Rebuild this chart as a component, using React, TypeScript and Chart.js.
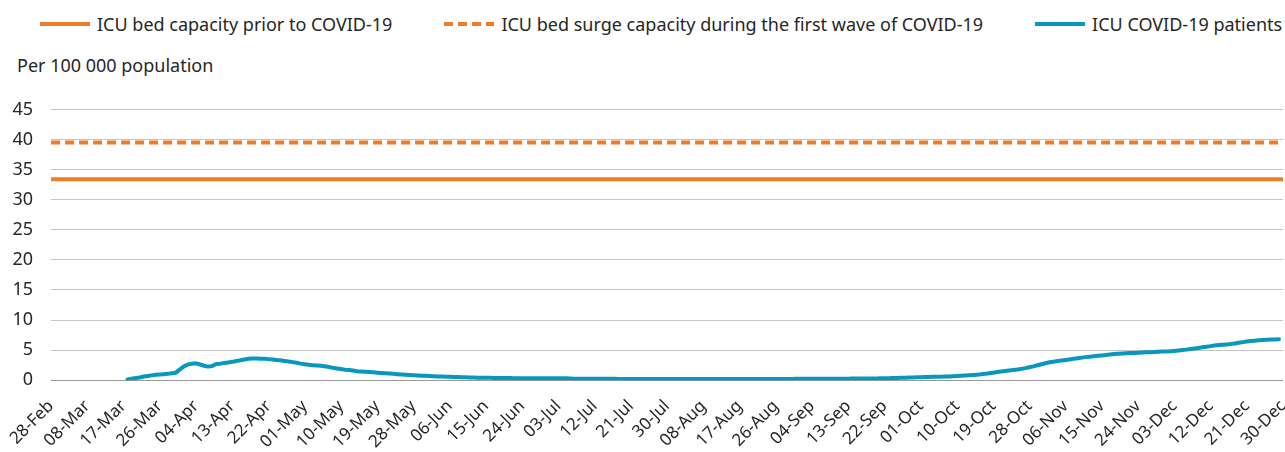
import React, { useEffect, useRef } from 'react';
import { Chart, registerables } from 'chart.js';

Chart.register(...registerables);

const FONT = '"Noto Sans", "Open Sans", sans-serif';
const FONT_SIZE = 18;
const X_FONT_SIZE = 17;
const ORANGE = '#F07B26';
const BLUE = '#0A97BE';
const TEXT = '#262626';

// Daily categories from 28-Feb-2020 to 30-Dec-2020
const MONTHS = ['Jan', 'Feb', 'Mar', 'Apr', 'May', 'Jun', 'Jul', 'Aug', 'Sep', 'Oct', 'Nov', 'Dec'];
const FIRST_DAY = new Date(2020, 1, 28);
const DAY_COUNT = 307;

const TICK_STEP = 9;
const TICK_LABELS = [
  '28-Feb', '08-Mar', '17-Mar', '26-Mar', '04-Apr', '13-Apr', '22-Apr', '01-May', '10-May',
  '19-May', '28-May', '06-Jun', '15-Jun', '24-Jun', '03-Jul', '12-Jul', '21-Jul', '30-Jul',
  '08-Aug', '17-Aug', '26-Aug', '04-Sep', '13-Sep', '22-Sep', '01-Oct', '10-Oct', '19-Oct',
  '28-Oct', '06-Nov', '15-Nov', '24-Nov', '03-Dec', '12-Dec', '21-Dec', '30-Dec',
];

const Y_TICKS = [0, 5, 10, 15, 20, 25, 30, 35, 40, 45];

const ICU_CAPACITY_PRIOR = 33.4;
const ICU_SURGE_CAPACITY = 39.5;

// ICU COVID-19 patients per 100 000 population, one value per day
const ICU_PATIENTS: (number | null)[] = [
  null, null, null, null, null, null, null, null, null, null,
  null, null, null, null, null, null, null, null, null,
  // 18-Mar ->
  0.1, 0.25, 0.35, 0.45, 0.6, 0.7, 0.8, 0.9, 0.95, 1.0, 1.05,
  1.15, 1.25, 1.8, 2.3, 2.6, 2.75, 2.8, 2.6, 2.4, 2.25,
  2.35, 2.7, 2.75, 2.85, 2.95, 3.05, 3.2, 3.3, 3.45, 3.55,
  3.6, 3.6, 3.55, 3.55, 3.5, 3.45, 3.35, 3.3, 3.2, 3.1,
  3.0, 2.9, 2.75, 2.65, 2.55, 2.5, 2.45, 2.4, 2.3, 2.2,
  2.05, 1.95, 1.85, 1.75, 1.7, 1.6, 1.5, 1.45, 1.4, 1.35,
  1.3, 1.25, 1.2, 1.15, 1.1, 1.05, 1.0, 0.95, 0.9, 0.86,
  0.82, 0.78, 0.75, 0.72, 0.69, 0.66, 0.63, 0.6, 0.58, 0.55,
  0.53, 0.51, 0.5, 0.48, 0.46, 0.44, 0.42, 0.41, 0.4, 0.39,
  0.38, 0.37, 0.36, 0.35, 0.35, 0.34, 0.34, 0.33, 0.33, 0.33,
  0.32, 0.32, 0.32, 0.31, 0.31, 0.31, 0.3, 0.3, 0.3, 0.29,
  // 09-Jul ->
  0.25, 0.24, 0.24, 0.23, 0.23, 0.23, 0.22, 0.22, 0.22, 0.22,
  0.22, 0.21, 0.21, 0.21, 0.21, 0.21, 0.21, 0.2, 0.2, 0.2,
  0.2, 0.2, 0.2, 0.2, 0.2, 0.2, 0.2, 0.2, 0.2, 0.2,
  0.2, 0.2, 0.2, 0.2, 0.2, 0.2, 0.2, 0.2, 0.2, 0.2,
  0.2, 0.2, 0.2, 0.2, 0.2, 0.2, 0.2, 0.2, 0.2, 0.2,
  0.21, 0.21, 0.21, 0.21, 0.21, 0.22, 0.22, 0.22, 0.22, 0.22,
  0.23, 0.23, 0.23, 0.24, 0.24, 0.24, 0.25, 0.25, 0.25, 0.26,
  0.26, 0.27, 0.27, 0.28, 0.28, 0.29,
  // 22-Sep ->
  0.3, 0.32, 0.34, 0.36, 0.38, 0.4, 0.42, 0.44, 0.46, 0.48,
  0.5, 0.52, 0.54, 0.56, 0.57, 0.58, 0.6, 0.62, 0.65, 0.68,
  0.72, 0.77, 0.82, 0.87, 0.92, 0.97, 1.05, 1.15, 1.25, 1.35,
  1.45, 1.52, 1.6, 1.68, 1.76, 1.88, 2.0, 2.15, 2.3, 2.48,
  2.65, 2.82, 2.98, 3.08, 3.18, 3.27, 3.36, 3.45, 3.55, 3.65,
  3.75, 3.83, 3.9, 3.98, 4.05, 4.12, 4.2, 4.27, 4.35, 4.4,
  4.44, 4.47, 4.5, 4.53, 4.56, 4.6, 4.63, 4.66, 4.69, 4.72,
  4.75, 4.78, 4.82, 4.87, 4.93, 5.0, 5.08, 5.17, 5.26, 5.36,
  5.46, 5.56, 5.66, 5.76, 5.84, 5.9, 5.95, 6.0, 6.1, 6.22,
  6.33, 6.43, 6.5, 6.56, 6.62, 6.67, 6.71, 6.75, 6.78, 6.8,
];

const LEGEND = [
  { label: 'ICU bed capacity prior to COVID-19', color: ORANGE, dash: '' },
  { label: 'ICU bed surge capacity during the first wave of COVID-19', color: ORANGE, dash: '9 5' },
  { label: 'ICU COVID-19 patients', color: BLUE, dash: '' },
];

function buildCategories(): string[] {
  const out: string[] = [];
  for (let i = 0; i < DAY_COUNT; i++) {
    const d = new Date(FIRST_DAY.getFullYear(), FIRST_DAY.getMonth(), FIRST_DAY.getDate() + i);
    out.push(String(d.getDate()).padStart(2, '0') + '-' + MONTHS[d.getMonth()]);
  }
  return out;
}

export default function App() {
  const canvasRef = useRef<HTMLCanvasElement | null>(null);

  useEffect(() => {
    document.body.style.margin = '0';
    const canvas = canvasRef.current;
    if (!canvas) return;
    const categories = buildCategories();
    const chart = new Chart(canvas, {
      type: 'line',
      data: {
        labels: categories,
        datasets: [
          {
            label: 'ICU bed capacity prior to COVID-19',
            data: categories.map(() => ICU_CAPACITY_PRIOR),
            borderColor: ORANGE,
            borderWidth: 4,
            pointRadius: 0,
            fill: false,
          },
          {
            label: 'ICU bed surge capacity during the first wave of COVID-19',
            data: categories.map(() => ICU_SURGE_CAPACITY),
            borderColor: ORANGE,
            borderWidth: 4,
            borderDash: [9, 5],
            pointRadius: 0,
            fill: false,
          },
          {
            label: 'ICU COVID-19 patients',
            data: ICU_PATIENTS,
            borderColor: BLUE,
            borderWidth: 4,
            borderCapStyle: 'round',
            borderJoinStyle: 'round',
            pointRadius: 0,
            tension: 0,
            fill: false,
          },
        ],
      },
      options: {
        animation: false,
        responsive: false,
        maintainAspectRatio: false,
        layout: { padding: { left: 9.5, right: 0, top: 0, bottom: 0 } },
        plugins: {
          legend: { display: false },
          title: { display: false },
          tooltip: { enabled: false },
        },
        scales: {
          x: {
            type: 'category',
            offset: false,
            grid: { display: false, drawTicks: true, tickLength: 16 },
            border: { display: false },
            afterFit: (scale: any) => {
              scale.paddingRight = 2;
            },
            ticks: {
              autoSkip: false,
              minRotation: 45,
              maxRotation: 45,
              padding: 0,
              color: TEXT,
              font: { family: FONT, size: X_FONT_SIZE },
              callback: (_v: any, index: number) =>
                index % TICK_STEP === 0 ? TICK_LABELS[index / TICK_STEP] : '',
            },
          },
          y: {
            min: 0,
            max: 45,
            afterBuildTicks: (axis: any) => {
              axis.ticks = Y_TICKS.map((v) => ({ value: v }));
            },
            afterFit: (scale: any) => {
              scale.paddingTop = 9.5;
              scale.paddingBottom = 0;
            },
            grid: {
              color: (ctx: any) => (ctx.tick && ctx.tick.value === 0 ? '#9a9a9a' : '#c4c4c4'),
              lineWidth: 1,
              drawTicks: true,
              tickLength: 15,
              tickColor: 'rgba(0,0,0,0)',
            },
            border: { display: false },
            ticks: {
              padding: 3,
              color: TEXT,
              font: { family: FONT, size: FONT_SIZE },
            },
          },
        },
      },
    });
    return () => chart.destroy();
  }, []);

  return (
    <div style={{ position: 'relative', width: 1285, height: 452, fontFamily: FONT, color: TEXT, overflow: 'hidden' }}>
      <div
        style={{
          position: 'absolute', top: 12, left: 40, display: 'flex', alignItems: 'center',
          fontSize: FONT_SIZE, lineHeight: '24px', whiteSpace: 'nowrap',
        }}
      >
        {LEGEND.map((item, i) => (
          <div key={i} style={{ display: 'flex', alignItems: 'center', marginRight: i < LEGEND.length - 1 ? 52 : 0 }}>
            <svg width={50} height={4} style={{ display: 'block', marginRight: 7 }}>
              <line x1={0} y1={2} x2={50} y2={2} stroke={item.color} strokeWidth={4} strokeDasharray={item.dash || undefined} />
            </svg>
            <span>{item.label}</span>
          </div>
        ))}
      </div>
      <div style={{ position: 'absolute', top: 53, left: 17, fontSize: FONT_SIZE, lineHeight: '24px', whiteSpace: 'nowrap' }}>
        Per 100 000 population
      </div>
      <canvas ref={canvasRef} width={1285} height={352} style={{ position: 'absolute', top: 100, left: 0, width: 1285, height: 352 }} />
    </div>
  );
}
